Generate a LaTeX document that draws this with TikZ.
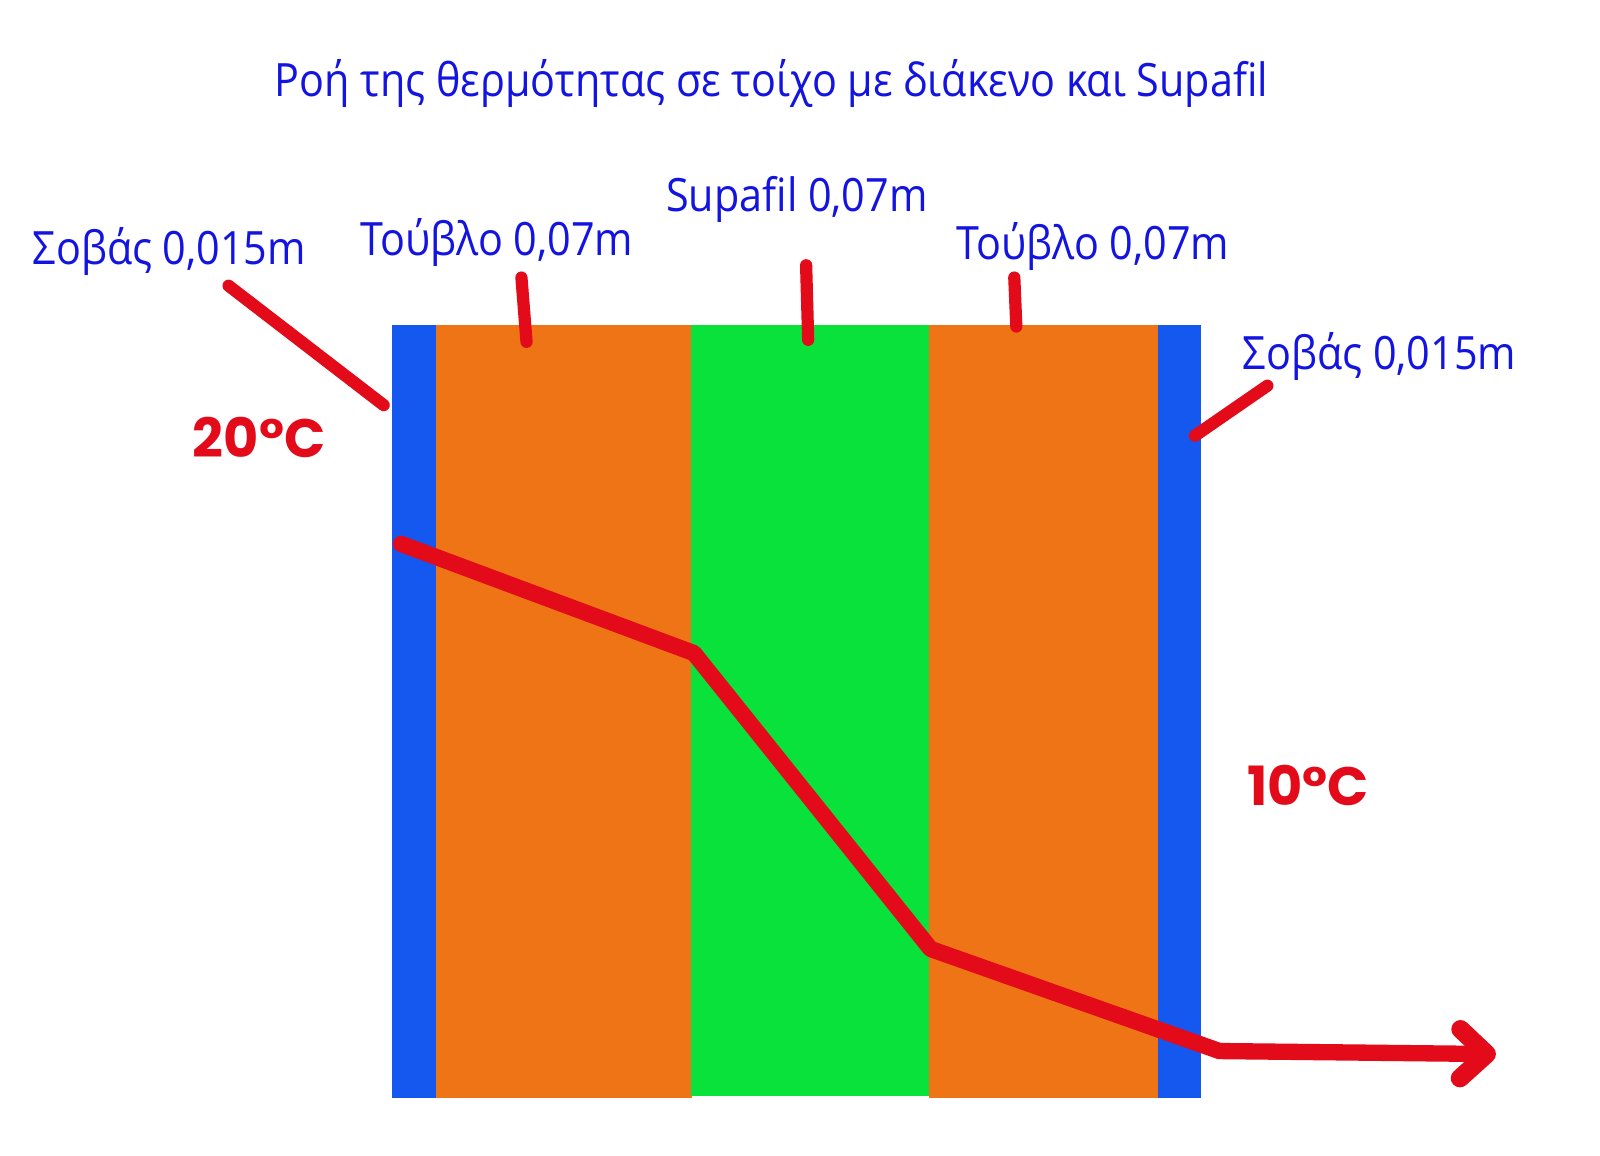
\documentclass[tikz,border=0pt]{standalone}
\usepackage{fontspec}
\setmainfont{Open Sans}[FakeStretch=0.9]
\newfontfamily\tempfont{Poppins}[BoldFont={Poppins Bold}]
\usetikzlibrary{arrows.meta}
\definecolor{plaster}{HTML}{1558F0}
\definecolor{brick}{HTML}{EE7416}
\definecolor{fillgreen}{HTML}{0AE23C}
\definecolor{heat}{HTML}{E30A1A}
\definecolor{labelblue}{HTML}{1414E0}
\tikzset{
  lbl/.style={text=labelblue, font=\fontsize{22.5}{27}\selectfont, inner sep=0pt},
  temp/.style={text=heat, font=\tempfont\bfseries\fontsize{26.5}{30}\selectfont, inner sep=0pt},
  leader/.style={draw=heat, line width=6pt, line cap=round},
  flow/.style={draw=heat, line width=8pt, line cap=round, line join=round}
}
\begin{document}
\begin{tikzpicture}[x=0.5pt,y=-0.5pt]
\useasboundingbox (0,0) rectangle (1568,1132);
\fill[white] (0,0) rectangle (1568,1132);
% layers
\fill[plaster] (384,318) rectangle (428,1076);
\fill[brick] (427,318) rectangle (678,1076);
\fill[fillgreen] (677,318) rectangle (911,1074);
\fill[brick] (910,318) rectangle (1136,1076);
\fill[plaster] (1135,318) rectangle (1177,1076);
% title
\node[lbl] (title) at (756,82) {Ροή της θερμότητας σε τοίχο με διάκενο και Supafil};
% labels
\node[lbl] (l1) at (166,246) {Σοβάς 0,015m};
\node[lbl] (l2) at (487,238) {Τούβλο 0,07m};
\node[lbl] (l3) at (781,195) {Supafil 0,07m};
\node[lbl] (l4) at (1071,242) {Τούβλο 0,07m};
\node[lbl] (l5) at (1352,349) {Σοβάς 0,015m};
\node[temp] (t20) at (254,429) {20°C};
\node[temp] (t10) at (1282,770) {10°C};
% leaders
\coordinate (a1) at (224,280); \coordinate (b1) at (376,397);
\coordinate (a2) at (511,272); \coordinate (b2) at (516,335);
\coordinate (a3) at (790,260); \coordinate (b3) at (792,333);
\coordinate (a4) at (994,272); \coordinate (b4) at (996,320);
\coordinate (a5) at (1242,378); \coordinate (b5) at (1171,427);
\draw[leader] (a1) -- (b1);
\draw[leader] (a2) -- (b2);
\draw[leader] (a3) -- (b3);
\draw[leader] (a4) -- (b4);
\draw[leader] (a5) -- (b5);
% heat flow
\coordinate (p1) at (393,533);
\coordinate (p2) at (680,640);
\coordinate (p3) at (912,930);
\coordinate (p4) at (1195,1030);
\coordinate (p5) at (1466,1033);
\draw[flow, -{Straight Barb[length=13pt,width=24pt,line width=9pt, round]}] (p1) -- (p2) -- (p3) -- (p4) -- (p5);
\end{tikzpicture}
\end{document}
